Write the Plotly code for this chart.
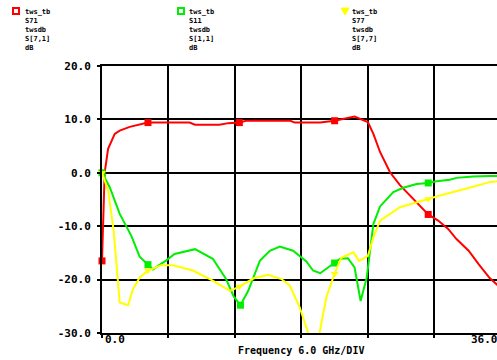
import plotly.graph_objects as go

# ---------------- data ----------------
red_x = [0.0, 0.24, 0.55, 1.15, 1.6, 2.5, 4.15, 7.9, 8.4, 10.6, 11.4, 12.4, 13.0, 17.0, 17.4, 19.7, 21.0,
         21.8, 22.8, 24.0, 24.5, 25.1, 26.0, 26.9, 28.1, 29.45, 30.35, 31.25, 32.0, 33.1, 34.0, 35.0, 36.0]
red_y = [-16.5, 0.0, 4.5, 7.3, 7.9, 8.6, 9.4, 9.4, 9.0, 9.0, 9.3, 9.4, 9.75, 9.75, 9.4, 9.4, 9.75,
         10.1, 10.55, 9.5, 7.3, 3.9, 0.1, -2.3, -4.9, -7.8, -8.95, -10.5, -12.4, -14.6, -17.1, -19.7, -21.6]

green_x = [0.0, 0.7, 1.6, 2.65, 3.4, 4.15, 4.6, 5.8, 6.55, 8.4, 10.0, 11.2, 11.9, 12.5, 13.2, 14.25, 15.15,
           16.05, 17.25, 18.45, 19.05, 19.7, 21.0, 21.5, 22.2, 22.8, 23.35, 23.9, 24.5, 25.1, 26.3, 27.2,
           28.4, 29.45, 30.2, 31.4, 32.0, 33.5, 35.0, 36.0]
green_y = [0.0, -2.7, -7.7, -11.8, -15.7, -17.2, -18.1, -16.4, -15.2, -14.3, -16.1, -19.9, -23.2, -24.8,
           -22.1, -16.5, -14.6, -13.8, -14.6, -16.6, -18.3, -18.8, -16.9, -16.1, -16.0, -17.7, -24.0, -19.6,
           -9.6, -6.3, -3.6, -2.8, -2.1, -1.9, -1.6, -1.3, -0.95, -0.7, -0.6, -0.6]

yellow_x = [0.0, 0.55, 1.05, 1.6, 2.35, 2.8, 3.4, 4.15, 5.35, 6.4, 8.2, 10.0, 11.55, 12.4, 13.65, 15.0,
            16.2, 16.95, 17.85, 18.6, 19.1, 19.65, 20.25, 21.0, 21.6, 22.7, 23.2, 24.0, 24.5, 25.1, 26.9,
            28.4, 29.45, 30.2, 31.7, 32.3, 33.5, 35.0, 36.0]
yellow_y = [0.0, -3.3, -10.8, -24.3, -24.8, -21.8, -19.6, -18.3, -17.3, -17.3, -18.3, -20.2, -22.1, -21.3,
            -19.8, -19.1, -19.9, -21.1, -25.2, -29.9, -34.0, -29.9, -23.3, -18.9, -15.9, -14.9, -16.5, -15.6,
            -12.1, -8.95, -6.45, -5.5, -4.9, -4.45, -3.6, -3.3, -2.6, -1.75, -1.5]

red_mx = [0.0, 4.15, 12.4, 21.0, 29.45]
red_my = [-16.5, 9.4, 9.4, 9.75, -7.8]
green_mx = [0.0, 4.15, 12.5, 21.0, 29.45]
green_my = [0.0, -17.2, -24.8, -16.9, -1.9]
yellow_mx = [0.0, 4.15, 12.4, 21.0, 29.45]
yellow_my = [0.0, -18.3, -21.3, -18.9, -4.9]

y_ticks = [20, 10, 0, -10, -20, -30]
y_tick_text = ["20.0", "10.0", "0.0", "-10.0", "-20.0", "-30.0"]
x_ticks = [0, 6, 12, 18, 24, 30]

legend_names = [
    ["tws_tb", "S71", "twsdb", "S[7,1]", "dB"],
    ["tws_tb", "S11", "twsdb", "S[1,1]", "dB"],
    ["tws_tb", "S77", "twsdb", "S[7,7]", "dB"],
]
colors = ["#ff0000", "#00ee00", "#ffff00"]

# ---------------- figure ----------------
W, H = 497, 360
L, R, T, B = 102, 0, 66, 27
PW, PH = W - L - R, H - T - B

def px(x):
    return (x - L) / PW

def py(y):
    return (H - B - y) / PH

FONT = "DejaVu Sans Mono"

fig = go.Figure()
for xs, ys, mx, my, c, sym in [
    (red_x, red_y, red_mx, red_my, colors[0], "square"),
    (green_x, green_y, green_mx, green_my, colors[1], "square"),
    (yellow_x, yellow_y, yellow_mx, yellow_my, colors[2], "triangle-down"),
]:
    fig.add_trace(go.Scatter(x=xs, y=ys, mode="lines", line=dict(color=c, width=2),
                             showlegend=False, hoverinfo="skip"))
    fig.add_trace(go.Scatter(x=mx, y=my, mode="markers", marker=dict(color=c, symbol=sym, size=7),
                             showlegend=False, hoverinfo="skip", cliponaxis=False))

fig.update_xaxes(range=[0, 35.66], tickvals=x_ticks, showticklabels=False,
                 showgrid=True, gridcolor="black", gridwidth=2, zeroline=False,
                 showline=True, linecolor="black", linewidth=2, mirror=True,
                 ticks="outside", ticklen=3, tickwidth=2, tickcolor="black")
fig.update_yaxes(range=[-30, 20], tickvals=y_ticks, ticktext=y_tick_text,
                 showgrid=True, gridcolor="black", gridwidth=2, zeroline=False,
                 showline=True, linecolor="black", linewidth=2,
                 ticks="outside", ticklen=3, tickwidth=2, tickcolor="black",
                 ticklabelstandoff=4,
                 tickfont=dict(family=FONT, size=11, color="black", weight="bold"))

ann = []
ann.append(dict(x=px(103), y=py(339), xref="paper", yref="paper", text="0.0", showarrow=False,
                xanchor="left", yanchor="middle", font=dict(family=FONT, size=11, color="black", weight="bold")))
ann.append(dict(x=px(469), y=py(339), xref="paper", yref="paper", text="36.0", showarrow=False,
                xanchor="left", yanchor="middle", font=dict(family=FONT, size=11, color="black", weight="bold")))
ann.append(dict(x=px(301), y=py(350), xref="paper", yref="paper", text="Frequency 6.0 GHz/DIV", showarrow=False,
                xanchor="center", yanchor="middle", font=dict(family=FONT, size=10, color="black", weight="bold")))

shapes = []
leg_x = [(13, 23), (178, 187), (342, 350)]
for i, (mxp, txp) in enumerate(leg_x):
    ann.append(dict(x=px(txp), y=py(6), xref="paper", yref="paper",
                    text="<br>".join(legend_names[i]), showarrow=False, align="left",
                    xanchor="left", yanchor="top",
                    font=dict(family=FONT, size=7, color="black", weight="bold")))
    if i < 2:
        shapes.append(dict(type="rect", xref="paper", yref="paper",
                           x0=px(mxp), x1=px(mxp + 6), y0=py(14), y1=py(8),
                           line=dict(color=colors[i], width=2), fillcolor="white"))
    else:
        path = "M {} {} L {} {} L {} {} Z".format(px(mxp - 1), py(8), px(mxp + 7), py(8), px(mxp + 3), py(15))
        shapes.append(dict(type="path", xref="paper", yref="paper", path=path,
                           line=dict(color=colors[i], width=1), fillcolor=colors[i]))

fig.update_layout(width=W, height=H, margin=dict(l=L, r=R, t=T, b=B),
                  paper_bgcolor="white", plot_bgcolor="white",
                  annotations=ann, shapes=shapes,
                  font=dict(family=FONT, color="black"))

fig.write_html("out.html")
